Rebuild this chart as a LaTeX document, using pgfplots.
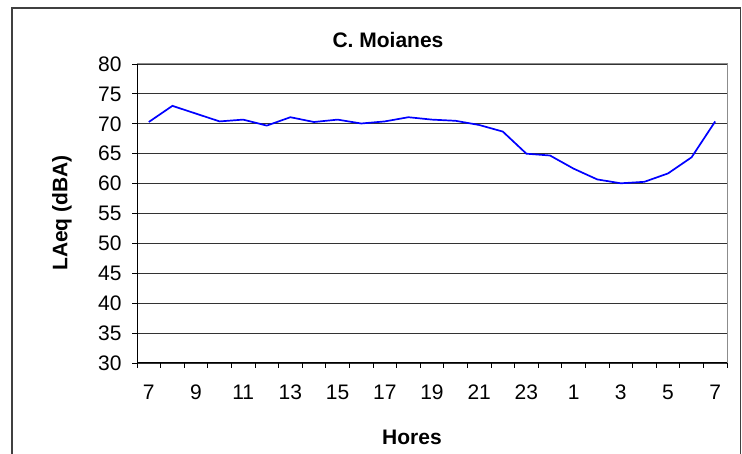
\documentclass[border=0pt]{standalone}
\usepackage{pgfplots}
\pgfplotsset{compat=1.18}
\usepackage{fontspec}
\setmainfont{Liberation Sans}
\begin{document}
\begin{tikzpicture}
\useasboundingbox (0,0) rectangle (742bp,454bp);
\draw[line width=1.3bp, black!75] (12bp,-5bp) -- (12bp,446bp) -- (740.5bp,446bp) -- (740.5bp,-5bp);
\begin{axis}[
  at={(137bp,91bp)}, anchor=south west,
  scale only axis, width=590bp, height=299bp,
  xmin=0, xmax=25, ymin=30, ymax=80,
  ytick={30,35,...,80},
  xtick={0.5,2.5,...,24.5},
  xticklabels={7,9,11,13,15,17,19,21,23,1,3,5,7},
  minor xtick={0,1,...,25},
  major x tick style={draw=none},
  minor tick length=5bp, major tick length=5bp,
  tick align=outside,
  xtick pos=bottom, ytick pos=left,
  tick style={black, line width=0.8bp},
  ymajorgrids, grid style={black!80, line width=0.8bp},
  axis line style={draw=black!45, line width=1bp},
  /pgf/number format/assume math mode=true,
  tick label style={font=\fontsize{21bp}{23bp}\selectfont},
  xticklabel style={anchor=base, yshift=-31bp, text height=15bp, text depth=0bp},
  yticklabel style={xshift=-7bp},
]
\addplot[blue, line width=1.7bp] coordinates {
(0.5,70.3) (1.5,73.0) (2.5,71.7) (3.5,70.4) (4.5,70.7) (5.5,69.7)
(6.5,71.1) (7.5,70.3) (8.5,70.7) (9.5,70.05) (10.5,70.4) (11.5,71.1)
(12.5,70.7) (13.5,70.5) (14.5,69.8) (15.5,68.7) (16.5,65.0) (17.5,64.7)
(18.5,62.5) (19.5,60.7) (20.5,60.05) (21.5,60.3) (22.5,61.7) (23.5,64.4)
(24.5,70.4)
};
\draw[black, line width=1.2bp] (rel axis cs:0,1) -- (rel axis cs:0,0) -- (rel axis cs:1,0);
\end{axis}
\node[font=\bfseries\fontsize{21bp}{23bp}\selectfont] at (388bp,414bp) {C. Moianes};
\node[font=\bfseries\fontsize{21bp}{23bp}\selectfont, rotate=90] at (62bp,241bp) {LAeq (dBA)};
\node[font=\bfseries\fontsize{21bp}{23bp}\selectfont] at (412bp,17bp) {Hores};
\end{tikzpicture}
\end{document}
